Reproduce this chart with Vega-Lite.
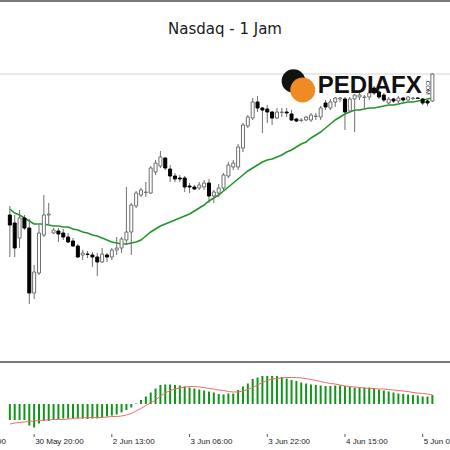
{
  "$schema": "https://vega.github.io/schema/vega-lite/v6.json",
  "width": 450,
  "height": 450,
  "autosize": {"type": "none"},
  "padding": 0,
  "background": "white",
  "config": {"view": {"stroke": null}},
  "title": {"text": "Nasdaq - 1 Jam", "frame": "group", "anchor": "middle", "offset": -49, "baseline": "alphabetic", "font": "Comic Sans MS, DejaVu Sans", "fontSize": 15, "fontWeight": "normal", "color": "#1a1a1a"},
  "data": {"values": [
{"i":0,"o":21570,"h":21588,"l":21486,"c":21550,"ma":21582,"hist":-32,"sig":-40},
{"i":1,"o":21554,"h":21570,"l":21486,"c":21504,"ma":21574,"hist":-32,"sig":-38},
{"i":2,"o":21524,"h":21580,"l":21504,"c":21564,"ma":21570,"hist":-32,"sig":-37},
{"i":3,"o":21564,"h":21570,"l":21540,"c":21544,"ma":21564,"hist":-32,"sig":-36},
{"i":4,"o":21544,"h":21562,"l":21392,"c":21414,"ma":21558,"hist":-43,"sig":-35},
{"i":5,"o":21414,"h":21470,"l":21402,"c":21456,"ma":21552,"hist":-47,"sig":-34},
{"i":6,"o":21454,"h":21550,"l":21450,"c":21534,"ma":21552,"hist":-39,"sig":-33},
{"i":7,"o":21530,"h":21610,"l":21526,"c":21570,"ma":21552,"hist":-34,"sig":-32},
{"i":8,"o":21570,"h":21594,"l":21552,"c":21572,"ma":21550,"hist":-34,"sig":-32},
{"i":9,"o":21534,"h":21544,"l":21532,"c":21540,"ma":21548,"hist":-32,"sig":-31},
{"i":10,"o":21538,"h":21544,"l":21516,"c":21532,"ma":21548,"hist":-30,"sig":-31},
{"i":11,"o":21534,"h":21542,"l":21520,"c":21526,"ma":21546,"hist":-29,"sig":-31},
{"i":12,"o":21526,"h":21534,"l":21514,"c":21516,"ma":21546,"hist":-29,"sig":-30},
{"i":13,"o":21518,"h":21524,"l":21506,"c":21508,"ma":21542,"hist":-29,"sig":-29},
{"i":14,"o":21508,"h":21512,"l":21484,"c":21486,"ma":21540,"hist":-29,"sig":-28},
{"i":15,"o":21490,"h":21500,"l":21480,"c":21494,"ma":21536,"hist":-29,"sig":-28},
{"i":16,"o":21492,"h":21498,"l":21484,"c":21491,"ma":21534,"hist":-30,"sig":-27},
{"i":17,"o":21490,"h":21496,"l":21466,"c":21486,"ma":21530,"hist":-29,"sig":-27},
{"i":18,"o":21486,"h":21494,"l":21448,"c":21476,"ma":21528,"hist":-29,"sig":-27},
{"i":19,"o":21476,"h":21504,"l":21474,"c":21492,"ma":21524,"hist":-27,"sig":-27},
{"i":20,"o":21490,"h":21494,"l":21476,"c":21486,"ma":21520,"hist":-25,"sig":-26},
{"i":21,"o":21486,"h":21504,"l":21480,"c":21500,"ma":21516,"hist":-23,"sig":-25},
{"i":22,"o":21500,"h":21526,"l":21490,"c":21504,"ma":21514,"hist":-21,"sig":-25},
{"i":23,"o":21504,"h":21526,"l":21494,"c":21522,"ma":21512,"hist":-17,"sig":-24},
{"i":24,"o":21520,"h":21626,"l":21510,"c":21536,"ma":21512,"hist":-12,"sig":-22},
{"i":25,"o":21536,"h":21594,"l":21490,"c":21590,"ma":21514,"hist":-7,"sig":-19},
{"i":26,"o":21588,"h":21618,"l":21584,"c":21614,"ma":21516,"hist":1,"sig":-14},
{"i":27,"o":21610,"h":21624,"l":21606,"c":21620,"ma":21520,"hist":8,"sig":-9},
{"i":28,"o":21615,"h":21636,"l":21606,"c":21616,"ma":21528,"hist":15,"sig":-3},
{"i":29,"o":21614,"h":21668,"l":21612,"c":21664,"ma":21536,"hist":23,"sig":2},
{"i":30,"o":21656,"h":21680,"l":21650,"c":21674,"ma":21542,"hist":31,"sig":8},
{"i":31,"o":21668,"h":21698,"l":21664,"c":21686,"ma":21548,"hist":38,"sig":16},
{"i":32,"o":21684,"h":21686,"l":21660,"c":21664,"ma":21552,"hist":39,"sig":22},
{"i":33,"o":21662,"h":21670,"l":21636,"c":21648,"ma":21556,"hist":39,"sig":27},
{"i":34,"o":21648,"h":21654,"l":21636,"c":21642,"ma":21560,"hist":38,"sig":30},
{"i":35,"o":21644,"h":21650,"l":21636,"c":21642,"ma":21564,"hist":37,"sig":32},
{"i":36,"o":21644,"h":21648,"l":21616,"c":21626,"ma":21568,"hist":35,"sig":34},
{"i":37,"o":21628,"h":21634,"l":21614,"c":21626,"ma":21572,"hist":33,"sig":35},
{"i":38,"o":21626,"h":21630,"l":21620,"c":21622,"ma":21578,"hist":31,"sig":35},
{"i":39,"o":21624,"h":21636,"l":21620,"c":21630,"ma":21584,"hist":29,"sig":34},
{"i":40,"o":21626,"h":21640,"l":21620,"c":21634,"ma":21590,"hist":27,"sig":33},
{"i":41,"o":21634,"h":21642,"l":21594,"c":21608,"ma":21598,"hist":25,"sig":31},
{"i":42,"o":21608,"h":21620,"l":21594,"c":21616,"ma":21604,"hist":23,"sig":30},
{"i":43,"o":21614,"h":21632,"l":21606,"c":21624,"ma":21610,"hist":20,"sig":28},
{"i":44,"o":21624,"h":21654,"l":21620,"c":21650,"ma":21618,"hist":19,"sig":27},
{"i":45,"o":21648,"h":21676,"l":21644,"c":21670,"ma":21626,"hist":21,"sig":25},
{"i":46,"o":21666,"h":21680,"l":21660,"c":21674,"ma":21634,"hist":21,"sig":24},
{"i":47,"o":21666,"h":21712,"l":21660,"c":21706,"ma":21642,"hist":28,"sig":24},
{"i":48,"o":21704,"h":21754,"l":21696,"c":21750,"ma":21650,"hist":35,"sig":26},
{"i":49,"o":21748,"h":21770,"l":21744,"c":21766,"ma":21658,"hist":41,"sig":29},
{"i":50,"o":21764,"h":21804,"l":21760,"c":21796,"ma":21664,"hist":50,"sig":33},
{"i":51,"o":21796,"h":21808,"l":21776,"c":21784,"ma":21670,"hist":53,"sig":38},
{"i":52,"o":21784,"h":21786,"l":21734,"c":21780,"ma":21676,"hist":56,"sig":43},
{"i":53,"o":21782,"h":21790,"l":21754,"c":21776,"ma":21680,"hist":56,"sig":47},
{"i":54,"o":21776,"h":21778,"l":21750,"c":21764,"ma":21682,"hist":56,"sig":50},
{"i":55,"o":21764,"h":21784,"l":21762,"c":21776,"ma":21686,"hist":56,"sig":51},
{"i":56,"o":21775,"h":21784,"l":21766,"c":21776,"ma":21690,"hist":54,"sig":52},
{"i":57,"o":21776,"h":21784,"l":21766,"c":21774,"ma":21696,"hist":51,"sig":53},
{"i":58,"o":21772,"h":21780,"l":21758,"c":21760,"ma":21700,"hist":48,"sig":53},
{"i":59,"o":21762,"h":21764,"l":21756,"c":21758,"ma":21706,"hist":46,"sig":53},
{"i":60,"o":21759,"h":21764,"l":21756,"c":21760,"ma":21712,"hist":43,"sig":52},
{"i":61,"o":21760,"h":21768,"l":21758,"c":21766,"ma":21716,"hist":41,"sig":51},
{"i":62,"o":21760,"h":21774,"l":21756,"c":21770,"ma":21724,"hist":39,"sig":49},
{"i":63,"o":21767,"h":21774,"l":21760,"c":21768,"ma":21730,"hist":38,"sig":47},
{"i":64,"o":21766,"h":21788,"l":21760,"c":21784,"ma":21736,"hist":37,"sig":45},
{"i":65,"o":21794,"h":21800,"l":21780,"c":21786,"ma":21744,"hist":36,"sig":43},
{"i":66,"o":21784,"h":21802,"l":21780,"c":21796,"ma":21752,"hist":36,"sig":41},
{"i":67,"o":21796,"h":21806,"l":21786,"c":21804,"ma":21760,"hist":37,"sig":40},
{"i":68,"o":21802,"h":21806,"l":21796,"c":21804,"ma":21766,"hist":37,"sig":38},
{"i":69,"o":21802,"h":21806,"l":21740,"c":21776,"ma":21772,"hist":36,"sig":36},
{"i":70,"o":21778,"h":21806,"l":21774,"c":21802,"ma":21776,"hist":35,"sig":35},
{"i":71,"o":21802,"h":21812,"l":21736,"c":21810,"ma":21780,"hist":33,"sig":34},
{"i":72,"o":21806,"h":21814,"l":21800,"c":21810,"ma":21780,"hist":33,"sig":33},
{"i":73,"o":21805,"h":21810,"l":21784,"c":21806,"ma":21782,"hist":33,"sig":32},
{"i":74,"o":21806,"h":21820,"l":21800,"c":21814,"ma":21784,"hist":33,"sig":31},
{"i":75,"o":21824,"h":21828,"l":21810,"c":21814,"ma":21784,"hist":31,"sig":31},
{"i":76,"o":21816,"h":21820,"l":21802,"c":21806,"ma":21786,"hist":29,"sig":30},
{"i":77,"o":21810,"h":21814,"l":21796,"c":21800,"ma":21788,"hist":27,"sig":30},
{"i":78,"o":21794,"h":21806,"l":21792,"c":21802,"ma":21790,"hist":25,"sig":29},
{"i":79,"o":21802,"h":21804,"l":21794,"c":21798,"ma":21790,"hist":23,"sig":28},
{"i":80,"o":21798,"h":21808,"l":21794,"c":21804,"ma":21792,"hist":21,"sig":27},
{"i":81,"o":21804,"h":21806,"l":21796,"c":21800,"ma":21794,"hist":20,"sig":26},
{"i":82,"o":21800,"h":21808,"l":21798,"c":21806,"ma":21796,"hist":19,"sig":25},
{"i":83,"o":21803,"h":21806,"l":21800,"c":21804,"ma":21796,"hist":18,"sig":23},
{"i":84,"o":21804,"h":21806,"l":21802,"c":21803,"ma":21798,"hist":17,"sig":22},
{"i":85,"o":21802,"h":21804,"l":21790,"c":21794,"ma":21800,"hist":15,"sig":21},
{"i":86,"o":21798,"h":21800,"l":21788,"c":21794,"ma":21802,"hist":15,"sig":20},
{"i":87,"o":21798,"h":21854,"l":21796,"c":21852,"ma":21804,"hist":18,"sig":18}
  ]},
  "layer": [
    {
      "layer": [
        {
          "data": {"values": [{"level": "frame"}]},
          "mark": {"type": "rule", "color": "#7a7a7a", "strokeWidth": 2},
          "encoding": {"y": {"datum": 21998, "type": "quantitative", "scale": {"domain": [21100, 22000], "nice": false, "zero": false}, "axis": null}}
        },
        {
          "data": {"values": [{"level": "separator"}]},
          "mark": {"type": "rule", "color": "#7a7a7a", "strokeWidth": 2},
          "encoding": {"y": {"datum": 21276, "type": "quantitative", "scale": {"domain": [21100, 22000], "nice": false, "zero": false}, "axis": null}}
        },
        {
          "data": {"values": [{"level": "last"}]},
          "mark": {"type": "rule", "color": "#d4d4d4", "strokeWidth": 1},
          "encoding": {"y": {"datum": 21852, "type": "quantitative", "scale": {"domain": [21100, 22000], "nice": false, "zero": false}, "axis": null}}
        },
        {
          "mark": {"type": "line", "color": "#22962a", "strokeWidth": 1.6},
          "encoding": {
            "x": {"field": "i", "type": "quantitative", "scale": {"domain": [-1, 89.6], "nice": false, "zero": false}, "axis": null},
            "y": {"field": "ma", "type": "quantitative", "scale": {"domain": [21100, 22000], "nice": false, "zero": false}, "axis": null}
          }
        },
        {
          "mark": {"type": "rule", "color": "#6e6e6e", "strokeWidth": 1},
          "encoding": {
            "x": {"field": "i", "type": "quantitative", "scale": {"domain": [-1, 89.6], "nice": false, "zero": false}, "axis": null},
            "y": {"field": "l", "type": "quantitative", "scale": {"domain": [21100, 22000], "nice": false, "zero": false}, "axis": null},
            "y2": {"field": "h"}
          }
        },
        {
          "mark": {"type": "bar", "width": 3, "strokeWidth": 1},
          "encoding": {
            "x": {"field": "i", "type": "quantitative", "scale": {"domain": [-1, 89.6], "nice": false, "zero": false}, "axis": null},
            "y": {"field": "o", "type": "quantitative", "scale": {"domain": [21100, 22000], "nice": false, "zero": false}, "axis": null},
            "y2": {"field": "c"},
            "fill": {"condition": {"test": "datum.c >= datum.o", "value": "#ffffff"}, "value": "#000000"},
            "stroke": {"condition": {"test": "datum.c >= datum.o", "value": "#6e6e6e"}, "value": "#000000"}
          }
        },
        {
          "data": {"values": [{"part": "wing"}]},
          "mark": {"type": "point", "shape": "circle", "filled": true, "color": "#111111", "size": 560, "opacity": 1},
          "encoding": {
            "x": {"datum": 58.4, "type": "quantitative", "scale": {"domain": [-1, 89.6], "nice": false, "zero": false}, "axis": null},
            "y": {"datum": 21838, "type": "quantitative", "scale": {"domain": [21100, 22000], "nice": false, "zero": false}, "axis": null}
          }
        },
        {
          "data": {"values": [{"part": "disc"}]},
          "mark": {"type": "point", "shape": "circle", "filled": true, "color": "#f08a24", "size": 620, "opacity": 1},
          "encoding": {
            "x": {"datum": 60.3, "type": "quantitative", "scale": {"domain": [-1, 89.6], "nice": false, "zero": false}, "axis": null},
            "y": {"datum": 21820, "type": "quantitative", "scale": {"domain": [21100, 22000], "nice": false, "zero": false}, "axis": null}
          }
        },
        {
          "data": {"values": [{"brand": "PEDIAFX"}]},
          "mark": {"type": "text", "font": "Liberation Sans", "fontSize": 24, "fontWeight": "bold", "color": "#111111", "baseline": "middle", "align": "center"},
          "encoding": {
            "text": {"field": "brand"},
            "x": {"datum": 74.1, "type": "quantitative", "scale": {"domain": [-1, 89.6], "nice": false, "zero": false}, "axis": null},
            "y": {"datum": 21828, "type": "quantitative", "scale": {"domain": [21100, 22000], "nice": false, "zero": false}, "axis": null}
          }
        },
        {
          "data": {"values": [{"brand": ".COM"}]},
          "mark": {"type": "text", "font": "Liberation Sans", "fontSize": 6, "color": "#111111", "baseline": "middle", "align": "center", "angle": 90},
          "encoding": {
            "text": {"field": "brand"},
            "x": {"datum": 86, "type": "quantitative", "scale": {"domain": [-1, 89.6], "nice": false, "zero": false}, "axis": null},
            "y": {"datum": 21826, "type": "quantitative", "scale": {"domain": [21100, 22000], "nice": false, "zero": false}, "axis": null}
          }
        }
      ]
    },
    {
      "layer": [
        {
          "mark": {"type": "bar", "width": 2, "color": "#12941a"},
          "encoding": {
            "x": {"field": "i", "type": "quantitative", "scale": {"domain": [-1, 89.6], "nice": false, "zero": false}, "axis": null},
            "y": {"field": "hist", "type": "quantitative", "scale": {"domain": [-92, 808], "nice": false, "zero": false}, "axis": null},
            "y2": {"datum": 0}
          }
        },
        {
          "mark": {"type": "line", "color": "#f26b6b", "strokeWidth": 1},
          "encoding": {
            "x": {"field": "i", "type": "quantitative", "scale": {"domain": [-1, 89.6], "nice": false, "zero": false}, "axis": null},
            "y": {"field": "sig", "type": "quantitative", "scale": {"domain": [-92, 808], "nice": false, "zero": false}, "axis": null}
          }
        },
        {
          "data": {"values": [
            {"i": -11, "t": "30 May 04:00"},
            {"i": 5, "t": "30 May 20:00"},
            {"i": 21, "t": "2 Jun 13:00"},
            {"i": 37, "t": "3 Jun 06:00"},
            {"i": 53, "t": "3 Jun 22:00"},
            {"i": 69, "t": "4 Jun 15:00"},
            {"i": 85, "t": "5 Jun 08:00"}
          ]},
          "layer": [
            {
              "mark": {"type": "rule", "color": "#555555", "strokeWidth": 1},
              "encoding": {
                "x": {"field": "i", "type": "quantitative", "scale": {"domain": [-1, 89.6], "nice": false, "zero": false}, "axis": null},
                "y": {"datum": -60, "type": "quantitative", "scale": {"domain": [-92, 808], "nice": false, "zero": false}, "axis": null},
                "y2": {"datum": -66}
              }
            },
            {
              "mark": {"type": "text", "font": "Liberation Sans", "fontSize": 8, "color": "#222222", "align": "left", "baseline": "top", "dx": 1},
              "encoding": {
                "text": {"field": "t"},
                "x": {"field": "i", "type": "quantitative", "scale": {"domain": [-1, 89.6], "nice": false, "zero": false}, "axis": null},
                "y": {"datum": -68, "type": "quantitative", "scale": {"domain": [-92, 808], "nice": false, "zero": false}, "axis": null}
              }
            }
          ]
        }
      ]
    }
  ],
  "resolve": {"scale": {"y": "independent"}}
}
